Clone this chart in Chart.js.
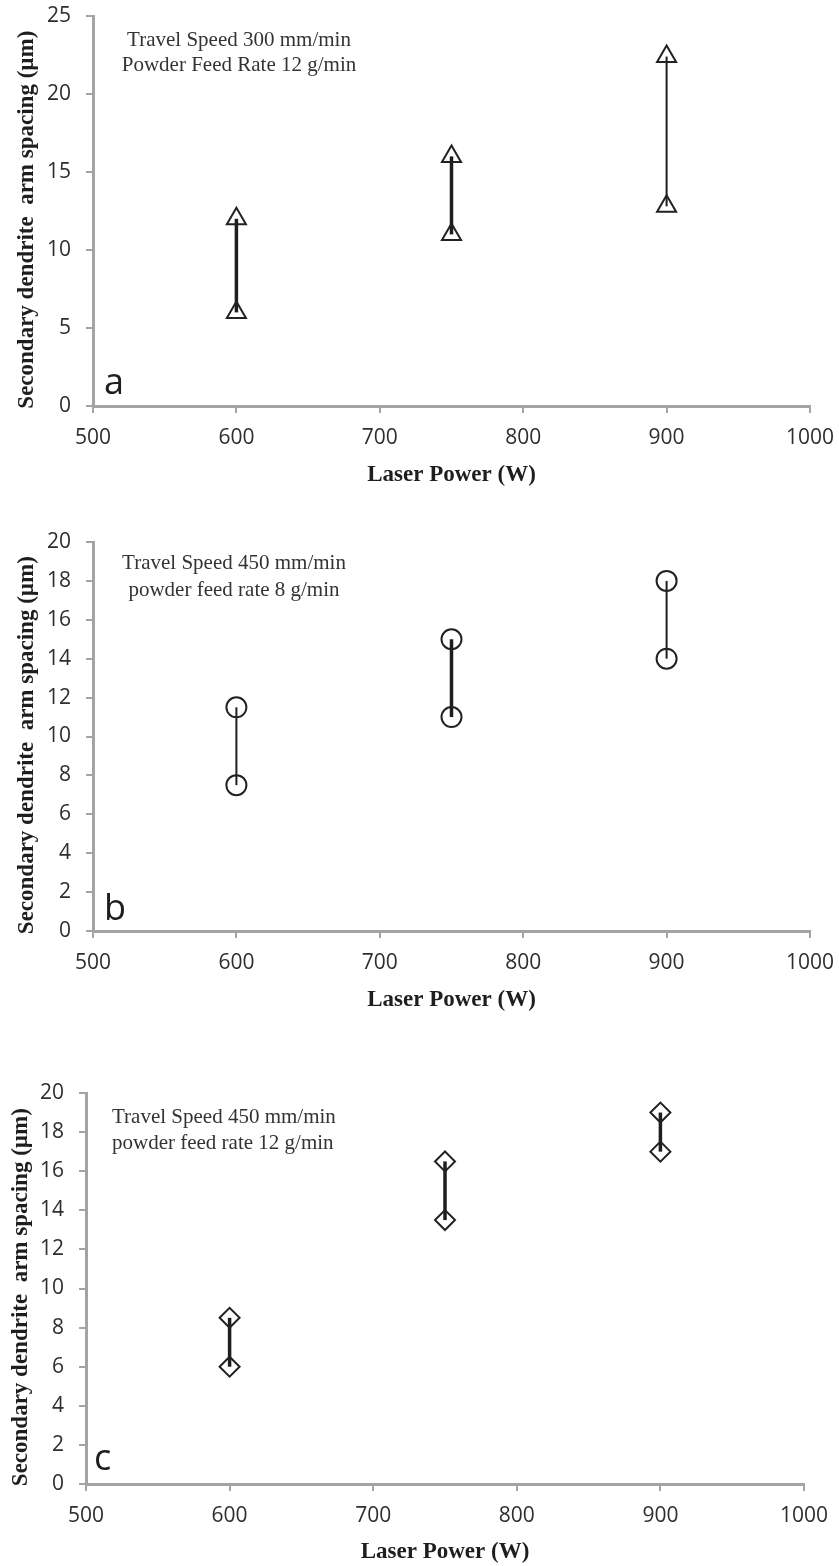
<!DOCTYPE html>
<html><head><meta charset="utf-8">
<script src="https://cdn.jsdelivr.net/npm/chart.js@4.4.1/dist/chart.umd.min.js"></script>
<style>
html,body{margin:0;padding:0;background:#fff;width:839px;height:1566px;overflow:hidden;}
.box{position:absolute;left:0;width:839px;}
canvas{display:block;}
</style></head><body>
<div class="box" style="top:0;height:510px"><canvas id="ca" width="839" height="510"></canvas></div>
<div class="box" style="top:510px;height:520px"><canvas id="cb" width="839" height="520"></canvas></div>
<div class="box" style="top:1030px;height:536px"><canvas id="cc" width="839" height="536"></canvas></div>
<script>
// ---- data ----
const laserPower = [600, 750, 900];
const xTickValues = [500, 600, 700, 800, 900, 1000];

const aLower = [6, 11, 12.8];
const aUpper = [12, 16, 22.4];
const aYTicks = [0, 5, 10, 15, 20, 25];

const bLower = [7.5, 11, 14];
const bUpper = [11.5, 15, 18];
const bYTicks = [0, 2, 4, 6, 8, 10, 12, 14, 16, 18, 20];

const cLower = [6, 13.5, 17];
const cUpper = [8.5, 16.5, 19];
const cYTicks = [0, 2, 4, 6, 8, 10, 12, 14, 16, 18, 20];

const yTitle = 'Secondary dendrite  arm spacing (\u00b5m)';
const xTitle = 'Laser Power (W)';
const aNote = ['Travel Speed 300 mm/min', 'Powder Feed Rate 12 g/min'];
const bNote = ['Travel Speed 450 mm/min', 'powder feed rate 8 g/min'];
const cNote = ['Travel Speed 450 mm/min', 'powder feed rate 12 g/min'];
const panelLetters = ['a', 'b', 'c'];

// ---- drawing ----
const notesPlugin = {
  id: 'notes',
  afterDraw(chart, args, o) {
    const {ctx, chartArea: ca} = chart;
    ctx.save();
    ctx.fillStyle = '#333';
    ctx.font = '21px "Liberation Serif", "Times New Roman", serif';
    ctx.textBaseline = 'middle';
    ctx.textAlign = o.align;
    o.lines.forEach((t, i) => ctx.fillText(t, ca.left + o.dx, ca.top + o.dy[i]));
    ctx.font = '36px "Open Sans", sans-serif';
    ctx.fillStyle = '#1e1e1e';
    ctx.textAlign = 'left';
    ctx.textBaseline = 'alphabetic';
    ctx.fillText(o.letter, ca.left + o.lx, ca.bottom - o.ly);
    ctx.restore();
  }
};

const AXIS = '#a4a4a4';
const TICKFONT = {family: '"Open Sans", sans-serif', size: 21};

function makeChart(c) {
  const datasets = laserPower.map((p, i) => ({
    data: [{x: p, y: c.lower[i]}, {x: p, y: c.upper[i]}],
    showLine: true,
    borderColor: '#1e1e1e',
    borderWidth: c.widths[i],
    pointStyle: c.style,
    pointRadius: c.radius,
    pointBorderWidth: 2,
    pointBorderColor: '#222',
    pointBackgroundColor: 'rgba(255,255,255,0)',
    clip: false
  }));
  new Chart(document.getElementById(c.id), {
    type: 'scatter',
    data: {datasets},
    plugins: [notesPlugin],
    options: {
      responsive: false,
      animation: false,
      events: [],
      layout: {padding: c.pad},
      plugins: {
        legend: {display: false},
        tooltip: {enabled: false},
        notes: c.notes
      },
      scales: {
        x: {
          type: 'linear', min: 500, max: 1000,
          afterBuildTicks: s => { s.ticks = xTickValues.map(v => ({value: v})); },
          afterFit: s => { s.height = c.xh; s.paddingLeft = 0; s.paddingRight = 0; },
          border: {color: AXIS, width: 3},
          grid: {drawOnChartArea: false, tickLength: 7, color: AXIS, lineWidth: 2},
          ticks: {font: TICKFONT, color: '#2e2e2e', padding: 12, maxRotation: 0, autoSkip: false,
                  callback: v => String(v)},
          title: {display: true, text: xTitle, color: '#1e1e1e',
                  font: {family: '"Liberation Serif", "Times New Roman", serif', size: 23, weight: 'bold'},
                  padding: {top: 0, bottom: 0}}
        },
        y: {
          min: 0, max: c.yMax,
          afterBuildTicks: s => { s.ticks = c.yTicks.map(v => ({value: v})); },
          afterFit: s => { s.width = c.axisW; s.paddingTop = 0; s.paddingBottom = 0; },
          border: {color: AXIS, width: 3},
          grid: {drawOnChartArea: false, tickLength: 7, color: AXIS, lineWidth: 2},
          ticks: {font: TICKFONT, color: '#2e2e2e', padding: 15, callback: v => String(v)},
          title: {display: true, text: yTitle + '   ', color: '#1e1e1e',
                  font: {family: '"Liberation Serif", "Times New Roman", serif', size: 23, weight: 'bold'},
                  padding: {top: c.ytp, bottom: 0}}
        }
      }
    }
  });
}

makeChart({
  id: 'ca', lower: aLower, upper: aUpper, yMax: 25, yTicks: aYTicks,
  widths: [3.5, 3.5, 2], style: 'triangle', radius: 11,
  pad: {left: 0, right: 29, top: 16, bottom: 21}, axisW: 93, xh: 83, ytp: 13,
  notes: {lines: aNote, align: 'center', dx: 146, dy: [24, 49], letter: panelLetters[0], lx: 11, ly: 12}
});
makeChart({
  id: 'cb', lower: bLower, upper: bUpper, yMax: 20, yTicks: bYTicks,
  widths: [2, 3.5, 2], style: 'circle', radius: 10,
  pad: {left: 0, right: 29, top: 32, bottom: 16}, axisW: 93, xh: 83, ytp: 13,
  notes: {lines: bNote, align: 'center', dx: 141, dy: [21, 48], letter: panelLetters[1], lx: 11, ly: 11}
});
makeChart({
  id: 'cc', lower: cLower, upper: cUpper, yMax: 20, yTicks: cYTicks,
  widths: [3.5, 3.5, 3.5], style: 'rectRot', radius: 10,
  pad: {left: 0, right: 35, top: 63, bottom: 0}, axisW: 86, xh: 82, ytp: 7,
  notes: {lines: cNote, align: 'left', dx: 26, dy: [24, 50], letter: panelLetters[2], lx: 8, ly: 14}
});
</script>
</body></html>
